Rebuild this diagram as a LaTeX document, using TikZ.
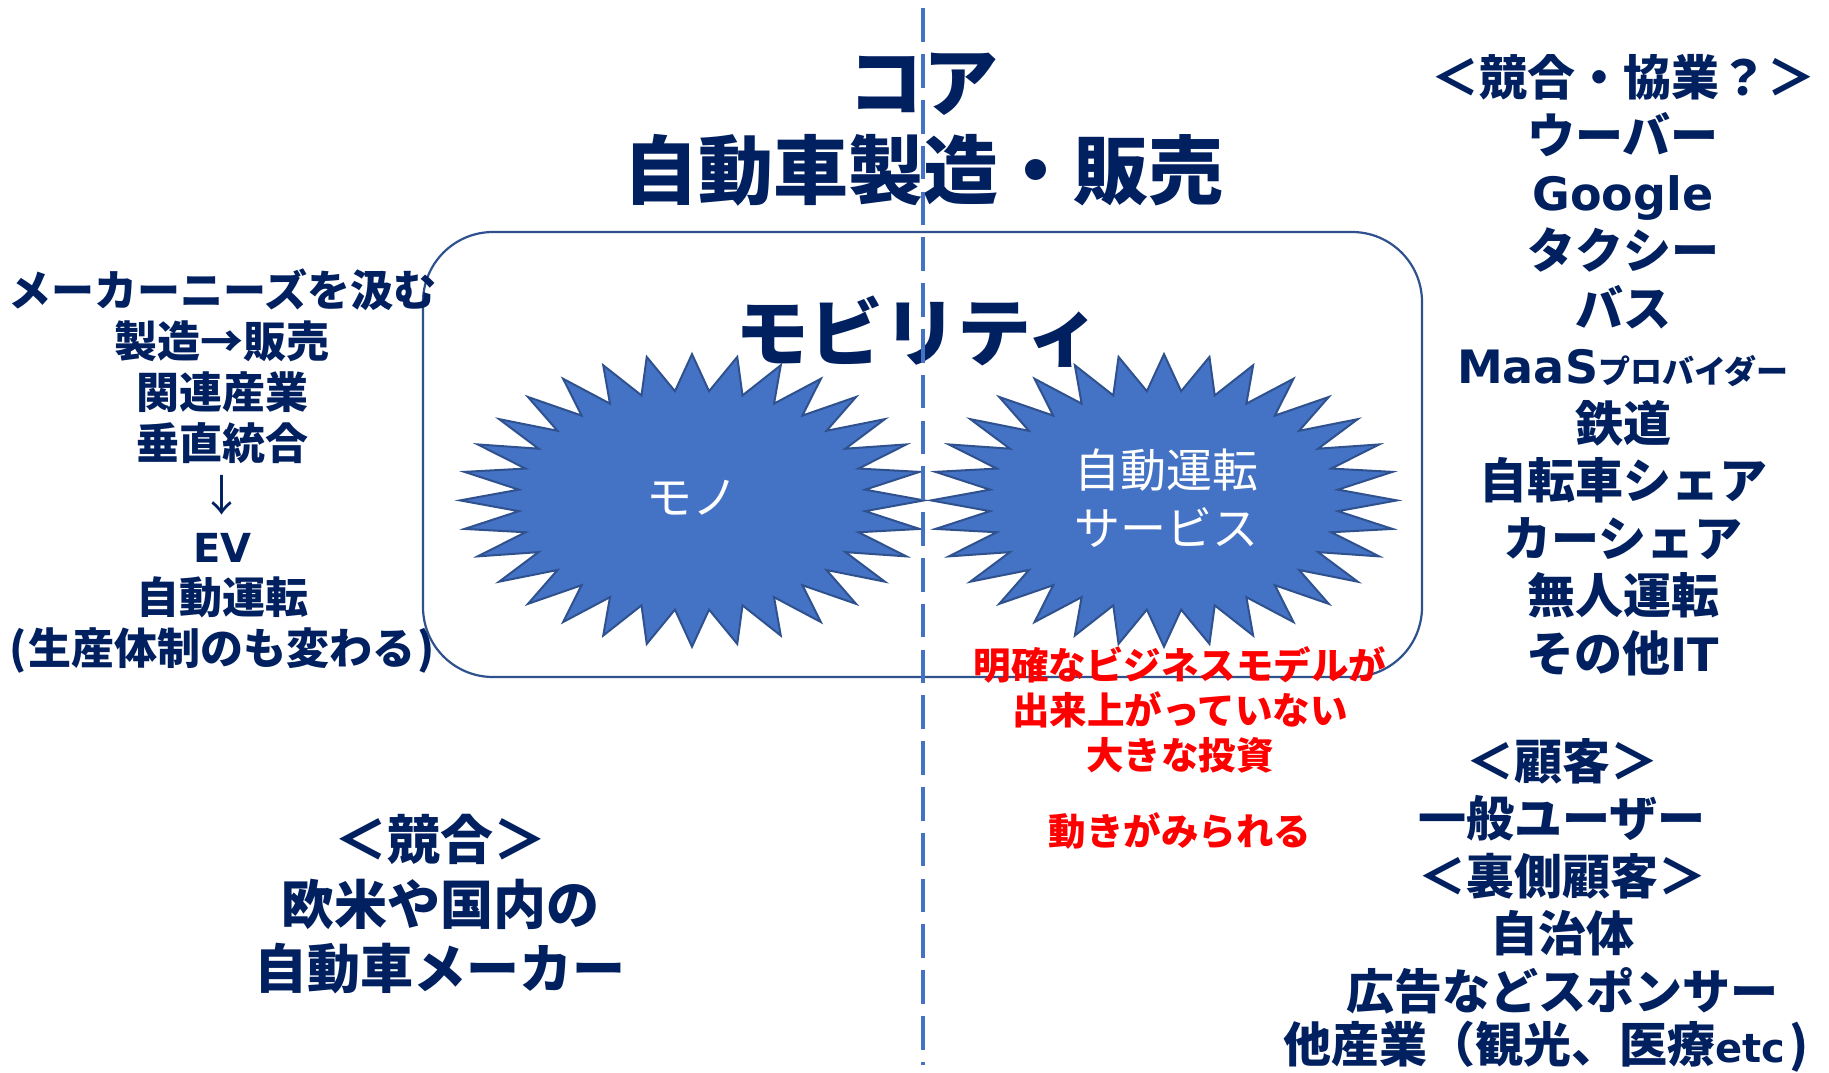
\documentclass[tikz,border=0pt]{standalone}
\usepackage{fontspec}
\newfontfamily\jp{Noto Sans CJK JP}
\newfontfamily\lat{DejaVu Sans}
\definecolor{navy}{HTML}{002060}
\definecolor{burstfill}{HTML}{4472C4}
\definecolor{burstline}{HTML}{2F528F}
\definecolor{boxline}{HTML}{2F528F}
\definecolor{dashc}{HTML}{4472C4}
\newcommand{\fsz}[2]{\fontsize{#1}{#2}\selectfont}
\newcommand{\latw}[2]{{\lat\bfseries\fontsize{#1}{#1}\selectfont #2}}
\newcommand{\burstshape}[4]{%
  \draw[burst] ({#1+#3},#2) \foreach \i in {1,...,63}{
    -- ({#1+#3*(1-0.25*mod(\i,2))*cos(\i*5.625)},{#2+#4*(1-0.25*mod(\i,2))*sin(\i*5.625)})
  } -- cycle;}
\tikzset{
  txt/.style={inner sep=0pt, align=center, text=navy},
  redtxt/.style={inner sep=0pt, align=center, text=red},
  wtxt/.style={inner sep=0pt, align=center, text=white},
  burst/.style={fill=burstfill, draw=burstline, line width=2pt, line join=miter},
  framebox/.style={draw=boxline, line width=2.2pt, rounded corners=70pt},
  divider/.style={draw=dashc, line width=3.5pt, dash pattern=on 33.6pt off 12.2pt}
}
\begin{document}
\begin{tikzpicture}[x=1pt, y=-1pt]
\useasboundingbox (0,0) rectangle (1829,1072);
\fill[white] (0,0) rectangle (1829,1072);

% frame
\draw[framebox] (423,232) rectangle (1422,677);

% bursts
\burstshape{692}{500.4}{232}{146.3}
\burstshape{1164}{500.4}{233}{146.3}

% title
\node[txt, font=\jp\bfseries\fsz{75}{88}] (core) at (923,129.5) {コア\\自動車製造・販売};
\node[txt, font=\jp\bfseries\fsz{74}{74}] (mob) at (918,332) {モビリティ};

% burst labels
\node[wtxt, font=\jp\fsz{46}{58}] (mono) at (692,498) {モノ};
\node[wtxt, font=\jp\fsz{46}{58}] (svc) at (1166,498) {自動運転\\サービス};

% left block
\node[txt, font=\jp\bfseries\fsz{43}{51.15}] (maker) at (222.5,471)
  {メーカーニーズを汲む\\製造→販売\\関連産業\\垂直統合\\{\mdseries ↓}\\\latw{40}{EV}\\自動運転\\(\kern2pt 生産体制のも変わる\kern2pt)};

% right block
\node[txt, font=\jp\bfseries\fsz{48}{57.55}] (comp) at (1623,365.25)
  {＜競合・協業？＞\\ウーバー\\\latw{46}{Google}\\タクシー\\バス\\\latw{46}{MaaS}{\fsz{32}{40}プロバイダー}\\鉄道\\自転車シェア\\カーシェア\\無人運転\\その他\latw{46}{IT}};

% red notes
\node[redtxt, font=\jp\bfseries\fsz{37.5}{44.75}] (note) at (1180,709.75)
  {明確なビジネスモデルが\\出来上がっていない\\大きな投資};
\node[redtxt, font=\jp\bfseries\fsz{37.5}{44.75}] (move) at (1180,830.5) {動きがみられる};

% bottom left
\node[txt, font=\jp\bfseries\fsz{53}{64.5}] (rival) at (440,904.5)
  {＜競合＞\\欧米や国内の\\自動車メーカー};

% bottom right
\node[txt, font=\jp\bfseries\fsz{48}{57.5}] (cust) at (1562,876.25)
  {＜顧客＞\\一般ユーザー\\＜裏側顧客＞\\自治体\\広告などスポンサー};
\node[txt, anchor=west, font=\jp\bfseries\fsz{48}{57.5}] (other) at (1283,1047)
  {他産業（観光、医療\latw{40}{etc}\kern4pt)};

% divider
\coordinate (dtop) at (923,8.3);
\coordinate (dbot) at (923,1065);
\draw[divider] (dtop) -- (dbot);
\end{tikzpicture}
\end{document}
